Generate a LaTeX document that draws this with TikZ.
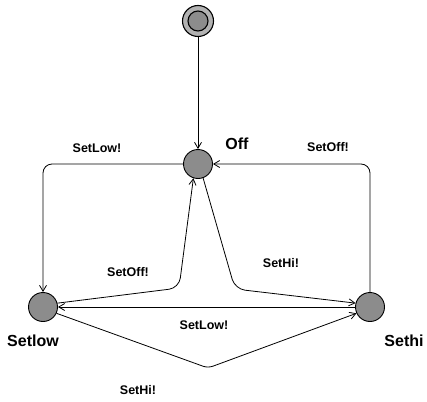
\documentclass[tikz,border=0pt]{standalone}
\usepackage{fontspec}
\setmainfont{Liberation Sans}
\usetikzlibrary{arrows.meta}
\begin{document}
\begin{tikzpicture}[x=1pt,y=-1pt,
  state/.style={circle,draw=black,line width=0.9pt,fill=black!45,minimum size=29pt,inner sep=0pt},
  edge/.style={draw=black,line width=0.8pt,-{Straight Barb[length=6pt,width=7pt]}},
  statename/.style={font=\fontsize{16}{18}\selectfont\bfseries,inner sep=0pt},
  lbl/.style={font=\fontsize{12.5}{14}\selectfont\bfseries,inner sep=0pt}]
  \useasboundingbox (0,0) rectangle (427,401);

  % initial state: double circle
  \node[circle,draw=black,line width=1.1pt,fill=black!30,minimum size=31pt,inner sep=0pt] (init) at (198,21) {};
  \node[circle,draw=black,line width=1.1pt,fill=black!45,minimum size=20pt,inner sep=0pt] (initin) at (198,21) {};

  % locations
  \node[state] (off) at (198,164) {};
  \node[state] (setlow) at (43,307) {};
  \node[state] (sethi) at (370,307) {};

  \node[statename] (offname) at (237,144) {Off};
  \node[statename] (setlowname) at (33,341) {Setlow};
  \node[statename] (sethiname) at (404,341) {Sethi};

  % transitions
  \draw[edge] (init.south) -- (off.north);
  \draw[edge,rounded corners=9pt] (off.west) -| (setlow.north);
  \draw[edge,rounded corners=9pt] (sethi.north) |- (off.east);
  \draw[edge,rounded corners=10pt] (setlow.15) -- (179,288) -- (off.252);
  \draw[edge,rounded corners=10pt] (off.290) -- (235,289) -- (sethi.165);
  \draw[edge] (sethi.west) -- (setlow.east);
  \draw[edge,rounded corners=5pt] (setlow.-25) -- (208,368) -- (sethi.205);

  % guards / synchronisations
  \node[lbl] (l1) at (97,148) {SetLow!};
  \node[lbl] (l2) at (328,147) {SetOff!};
  \node[lbl] (l3) at (128,272) {SetOff!};
  \node[lbl] (l4) at (281,263) {SetHi!};
  \node[lbl] (l5) at (204,325) {SetLow!};
  \node[lbl] (l6) at (138,390) {SetHi!};
\end{tikzpicture}
\end{document}
